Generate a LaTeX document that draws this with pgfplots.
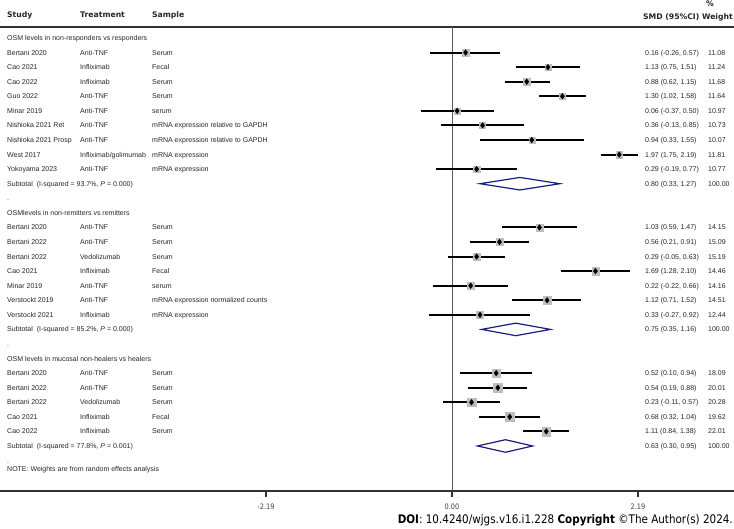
\documentclass[border=0pt]{standalone}
\usepackage{pgfplots}
\pgfplotsset{compat=1.18}
\usepackage{pgfplotstable}
\usepackage{graphicx}
\usepackage{fontspec}
\setmainfont{Liberation Sans}
\newfontfamily\hdr{DejaVu Sans}
\newfontfamily\cond[FakeStretch=0.88]{DejaVu Sans}
\definecolor{navy}{RGB}{24,28,122}
\definecolor{sqgray}{RGB}{190,190,190}

\pgfplotstableread{
row est lo hi w
-1 0.16 -0.26 0.57 11.08
-2 1.13 0.75 1.51 11.24
-3 0.88 0.62 1.15 11.68
-4 1.30 1.02 1.58 11.64
-5 0.06 -0.37 0.50 10.97
-6 0.36 -0.13 0.85 10.73
-7 0.94 0.33 1.55 10.07
-8 1.97 1.75 2.19 11.81
-9 0.29 -0.19 0.77 10.77
-13 1.03 0.59 1.47 14.15
-14 0.56 0.21 0.91 15.09
-15 0.29 -0.05 0.63 15.19
-16 1.69 1.28 2.10 14.46
-17 0.22 -0.22 0.66 14.16
-18 1.12 0.71 1.52 14.51
-19 0.33 -0.27 0.92 12.44
-23 0.52 0.10 0.94 18.09
-24 0.54 0.19 0.88 20.01
-25 0.23 -0.11 0.57 20.28
-26 0.68 0.32 1.04 19.62
-27 1.11 0.84 1.38 22.01
}\studies

\pgfplotstableread{
x y
-0.26 -1
0.57 -1
nan nan
0.75 -2
1.51 -2
nan nan
0.62 -3
1.15 -3
nan nan
1.02 -4
1.58 -4
nan nan
-0.37 -5
0.50 -5
nan nan
-0.13 -6
0.85 -6
nan nan
0.33 -7
1.55 -7
nan nan
1.75 -8
2.19 -8
nan nan
-0.19 -9
0.77 -9
nan nan
0.59 -13
1.47 -13
nan nan
0.21 -14
0.91 -14
nan nan
-0.05 -15
0.63 -15
nan nan
1.28 -16
2.10 -16
nan nan
-0.22 -17
0.66 -17
nan nan
0.71 -18
1.52 -18
nan nan
-0.27 -19
0.92 -19
nan nan
0.10 -23
0.94 -23
nan nan
0.19 -24
0.88 -24
nan nan
-0.11 -25
0.57 -25
nan nan
0.32 -26
1.04 -26
nan nan
0.84 -27
1.38 -27
}\cis

\tikzset{T/.style={anchor=base west, inner sep=0pt, font=\fontsize{7}{8}\selectfont, text=black!85},
H/.style={anchor=base west, inner sep=0pt, font=\hdr\bfseries\fontsize{7.7}{9}\selectfont, text=black!85}}

\newcommand{\srow}[6]{%
\node[T] at (7,{453-14.571*#1-2.5}) {#2};
\node[T] at (80,{453-14.571*#1-2.5}) {#3};
\node[T] at (152,{453-14.571*#1-2.5}) {#4};
\node[T] at (645,{453-14.571*#1-2.5}) {#5};
\node[T] at (708,{453-14.571*#1-2.5}) {#6};}
\newcommand{\lrow}[2]{\node[T] at (7,{453-14.571*#1-2.5}) {#2};}

\begin{document}
\begin{tikzpicture}
\useasboundingbox (0,-37pt) rectangle (734pt,491pt);
\begin{axis}[
  at={(0,0)}, anchor=south west,
  scale only axis, width=734pt, height=464pt,
  xmin=-5.3239, xmax=3.3216,
  ymin=-31.09, ymax=0.755,
  axis x line*=bottom, axis y line=none,
  x axis line style={line width=1.3pt, black!80},
  xtick={-2.19,0,2.19}, xticklabels={-2.19,0.00,2.19},
  tick align=outside, major tick length=6pt,
  every tick/.style={black!80, line width=1.3pt},
  xticklabel style={font=\cond\fontsize{7.5}{9}\selectfont, text=black!75, anchor=center, yshift=-10pt},
  clip=false,
  unbounded coords=jump,
]
\draw[line width=1.3pt, black!80] (rel axis cs:0,1) -- (rel axis cs:1,1);
\addplot[black!65, line width=1pt, forget plot] coordinates {(0,0.755) (0,-31.09)};
% weight squares
\addplot[scatter, only marks, mark=square*, point meta=y,
  scatter/use mapped color={draw=sqgray, fill=sqgray},
  visualization depends on={0.95*sqrt(\thisrow{w}) \as \msz},
  scatter/@pre marker code/.append style={/tikz/mark size=\msz}]
  table[x=est, y=row] {\studies};
% CI lines
\addplot[black, line width=2pt, mark=none] table[x=x, y=y] {\cis};
% point estimates
\addplot[only marks, mark=diamond*, mark size=2.8pt, black] table[x=est, y=row] {\studies};
% subtotal diamonds
\addplot[navy, line width=1.2pt, line join=miter] coordinates {(0.33,-10) (0.80,-9.57) (1.27,-10) (0.80,-10.43)} -- cycle;
\addplot[navy, line width=1.2pt, line join=miter] coordinates {(0.35,-20) (0.75,-19.57) (1.16,-20) (0.75,-20.43)} -- cycle;
\addplot[navy, line width=1.2pt, line join=miter] coordinates {(0.30,-28) (0.63,-27.57) (0.95,-28) (0.63,-28.43)} -- cycle;
\end{axis}
\begin{scope}[x=1pt,y=1pt]
\node[H] at (7,473) {Study};
\node[H] at (80,473) {Treatment};
\node[H] at (152,473) {Sample};
\node[H] at (706,484) {\%};
\node[anchor=base east, inner sep=0pt, font=\hdr\bfseries\fontsize{7.7}{9}\selectfont, text=black!85] at (733,471) {SMD (95\%CI) Weight};
\lrow{0}{OSM levels in non-responders vs responders}
\srow{1}{Bertani 2020}{Anti-TNF}{Serum}{0.16 (-0.26, 0.57)}{11.08}
\srow{2}{Cao 2021}{Infliximab}{Fecal}{1.13 (0.75, 1.51)}{11.24}
\srow{3}{Cao 2022}{Infliximab}{Serum}{0.88 (0.62, 1.15)}{11.68}
\srow{4}{Guo 2022}{Anti-TNF}{Serum}{1.30 (1.02, 1.58)}{11.64}
\srow{5}{Minar 2019}{Anti-TNF}{serum}{0.06 (-0.37, 0.50)}{10.97}
\srow{6}{Nishioka 2021 Ret}{Anti-TNF}{mRNA expression relative to GAPDH}{0.36 (-0.13, 0.85)}{10.73}
\srow{7}{Nishioka 2021 Prosp}{Anti-TNF}{mRNA expression relative to GAPDH}{0.94 (0.33, 1.55)}{10.07}
\srow{8}{West 2017}{Infliximab/golimumab}{mRNA expression}{1.97 (1.75, 2.19)}{11.81}
\srow{9}{Yokoyama 2023}{Anti-TNF}{mRNA expression}{0.29 (-0.19, 0.77)}{10.77}
\srow{10}{Subtotal\ \ (I-squared = 93.7\%, \textit{P} = 0.000)}{}{}{0.80 (0.33, 1.27)}{100.00}
\lrow{11}{.}
\lrow{12}{OSMlevels in non-remitters vs remitters}
\srow{13}{Bertani 2020}{Anti-TNF}{Serum}{1.03 (0.59, 1.47)}{14.15}
\srow{14}{Bertani 2022}{Anti-TNF}{Serum}{0.56 (0.21, 0.91)}{15.09}
\srow{15}{Bertani 2022}{Vedolizumab}{Serum}{0.29 (-0.05, 0.63)}{15.19}
\srow{16}{Cao 2021}{Infliximab}{Fecal}{1.69 (1.28, 2.10)}{14.46}
\srow{17}{Minar 2019}{Anti-TNF}{serum}{0.22 (-0.22, 0.66)}{14.16}
\srow{18}{Verstockt 2019}{Anti-TNF}{mRNA expression normalized counts}{1.12 (0.71, 1.52)}{14.51}
\srow{19}{Verstockt 2021}{Infliximab}{mRNA expression}{0.33 (-0.27, 0.92)}{12.44}
\srow{20}{Subtotal\ \ (I-squared = 85.2\%, \textit{P} = 0.000)}{}{}{0.75 (0.35, 1.16)}{100.00}
\lrow{21}{.}
\lrow{22}{OSM levels in mucosal non-healers vs healers}
\srow{23}{Bertani 2020}{Anti-TNF}{Serum}{0.52 (0.10, 0.94)}{18.09}
\srow{24}{Bertani 2022}{Anti-TNF}{Serum}{0.54 (0.19, 0.88)}{20.01}
\srow{25}{Bertani 2022}{Vedolizumab}{Serum}{0.23 (-0.11, 0.57)}{20.28}
\srow{26}{Cao 2021}{Infliximab}{Fecal}{0.68 (0.32, 1.04)}{19.62}
\srow{27}{Cao 2022}{Infliximab}{Serum}{1.11 (0.84, 1.38)}{22.01}
\srow{28}{Subtotal\ \ (I-squared = 77.8\%, \textit{P} = 0.001)}{}{}{0.63 (0.30, 0.95)}{100.00}
\lrow{29}{.}
\node[T] at (7,19.5) {NOTE: Weights are from random effects analysis};
\node[anchor=base east, inner sep=0pt] at (733,-32) {\resizebox{335pt}{!}{\cond\fontsize{10}{12}\selectfont\textbf{DOI}: 10.4240/wjgs.v16.i1.228 \textbf{Copyright} ©The Author(s) 2024.}};
\end{scope}
\end{tikzpicture}
\end{document}
